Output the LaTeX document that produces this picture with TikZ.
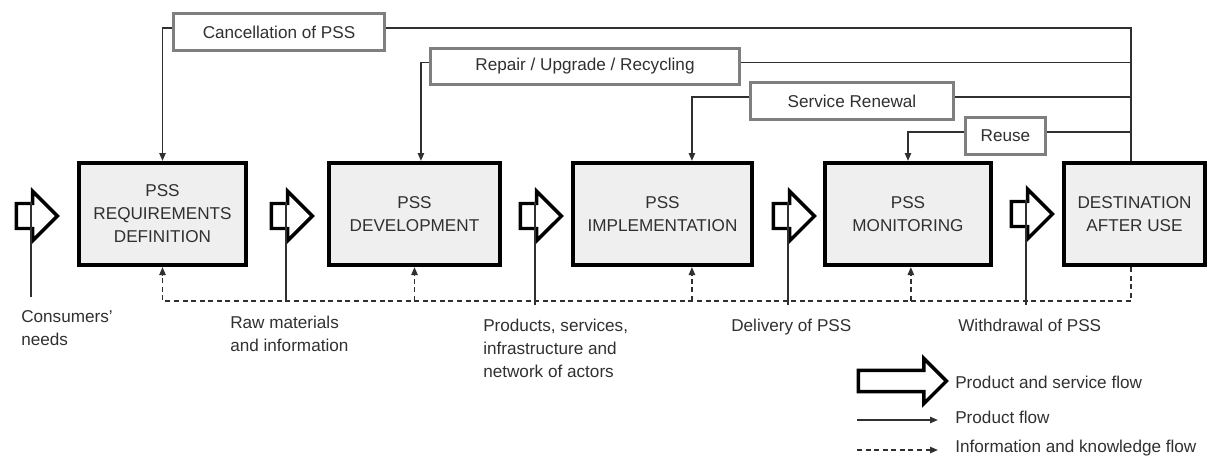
\documentclass[tikz,border=0pt]{standalone}
\usepackage{fontspec}
\setmainfont{Liberation Sans}
\usepackage{tikz}
\usetikzlibrary{shapes}
\usetikzlibrary{shapes.arrows}
\usetikzlibrary{arrows.meta}
\usetikzlibrary{calc}
\definecolor{boxgray}{HTML}{EFEFEF}
\definecolor{rimgray}{HTML}{7F7F7F}
\definecolor{inkgray}{HTML}{303030}
\newcommand\diagfont{\fontsize{12}{16.1}\selectfont}
\tikzstyle{stage}   = [draw=black, fill=boxgray, line width=3pt, minimum height=71.4pt, align=center, text=inkgray, font=\diagfont]
\tikzstyle{backbox} = [draw=rimgray, fill=white, line width=2pt, minimum height=25.5pt, text=inkgray, font=\diagfont]
\tikzstyle{bigflow} = [single arrow, anchor=tail, draw=black, fill=white, line width=2.4pt, inner xsep=0pt, inner ysep=7.56pt, single arrow head extend=8.54pt, minimum height=28.7pt]
\tikzstyle{pflow}   = [draw=inkgray, line width=0.9pt]
\tikzstyle{iflow}   = [pflow, dash pattern=on 3.5pt off 2.5pt]
\tikzstyle{tohead}  = [-{Triangle[length=5.5pt,width=4.5pt]}]
\tikzstyle{note}    = [anchor=north west, align=left, inner xsep=0pt, inner ysep=9.5pt, text=inkgray, font=\diagfont]
\tikzstyle{keytext} = [anchor=west, inner xsep=0pt, text=inkgray, font=\diagfont]

\begin{document}
\begin{tikzpicture}[x=0.7pt, y=-0.7pt]
    \useasboundingbox (0,0) rectangle (1208,463);
    % stages
    \node[stage, minimum width=117pt] (req)  at (162.5,214) {PSS\\REQUIREMENTS\\DEFINITION};
    \node[stage, minimum width=120pt] (dev)  at (414.5,214) {PSS\\DEVELOPMENT};
    \node[stage, minimum width=125pt] (imp)  at (662.5,214) {PSS\\IMPLEMENTATION};
    \node[stage, minimum width=116pt] (mon)  at (908,214)   {PSS\\MONITORING};
    \node[stage, minimum width=99pt]  (dest) at (1134.5,214) {DESTINATION\\AFTER USE};
    % product and service flow
    \node[bigflow] (arr1) at (14.7,216)   {};
    \node[bigflow] (arr2) at (269.7,216)  {};
    \node[bigflow] (arr3) at (518.7,216)  {};
    \node[bigflow] (arr4) at (771.7,216)  {};
    \node[bigflow] (arr5) at (1009.7,214) {};
    % feedback boxes
    \node[backbox, minimum width=147.7pt] (canc) at (279,32)    {Cancellation of PSS};
    \node[backbox, minimum width=216pt]   (rep)  at (585,66.5)  {Repair / Upgrade / Recycling};
    \node[backbox, minimum width=142pt]   (ren)  at (852,101)   {Service Renewal};
    \node[backbox, minimum width=56pt]    (reu)  at (1005.5,136) {Reuse};
    \coordinate (back) at ([xshift=-2.5pt]dest.north);
    \foreach \b in {canc,rep,ren,reu}
       \draw[pflow] ([yshift=2.8pt]\b.east) -| (back);
    \draw[pflow,tohead] ([yshift=2.8pt]canc.west) -| (req.north);
    \draw[pflow,tohead] ([yshift=2.8pt]rep.west)  -| ([xshift=4.5pt]dev.north);
    \draw[pflow,tohead] ([yshift=2.8pt]ren.west)  -| ([xshift=20.6pt]imp.north);
    \draw[pflow,tohead] ([yshift=2.8pt]reu.west)  -| (mon.north);
    % information flow
    \coordinate (bus) at (0,301);
    \draw[iflow,tohead] ([xshift=-2.5pt]dest.south) |- (req.south |- bus) -- (req.south);
    \draw[iflow,tohead] (dev.south |- bus) -- (dev.south);
    \draw[iflow,tohead] ([xshift=20.6pt]imp.south |- bus) -- ([xshift=20.6pt]imp.south);
    \draw[iflow,tohead] ([xshift=2pt]mon.south |- bus) -- ([xshift=2pt]mon.south);
    % inputs and outputs
    \node[note] (cons)  at (21,297)  {Consumers'\\needs};
    \node[note] (raw)   at (230,302) {Raw materials\\and information};
    \node[note] (prods) at (483,305) {Products, services,\\infrastructure and\\network of actors};
    \node[note] (deliv) at (731,305) {Delivery of PSS};
    \node[note] (withd) at (958,305) {Withdrawal of PSS};
    \draw[pflow] (arr1.before head) -- (arr1.before head |- cons.north);
    \draw[pflow] (arr2.before head) -- (arr2.before head |- raw.north);
    \draw[pflow] (arr3.before head) -- (arr3.before head |- prods.north);
    \draw[pflow] (arr4.before head) -- (arr4.before head |- deliv.north);
    \draw[pflow] (arr5.before head) -- (arr5.before head |- withd.north);
    % legend
    \node[bigflow, minimum height=61.6pt, inner ysep=6.2pt, single arrow head extend=8.4pt] (key1) at (856.7,381) {};
    \node[keytext] (keyt1) at (955,382) {Product and service flow};
    \node[keytext] (keyt2) at (955,417) {Product flow};
    \node[keytext] (keyt3) at (955,448) {Information and knowledge flow};
    \coordinate (keys2) at (857,420);
    \coordinate (keys3) at (857,450);
    \draw[pflow,tohead,shorten >=12pt] (keys2) -- (keys2 -| keyt2.west);
    \draw[iflow,tohead,shorten >=12pt] (keys3) -- (keys3 -| keyt3.west);
\end{tikzpicture}
\end{document}
